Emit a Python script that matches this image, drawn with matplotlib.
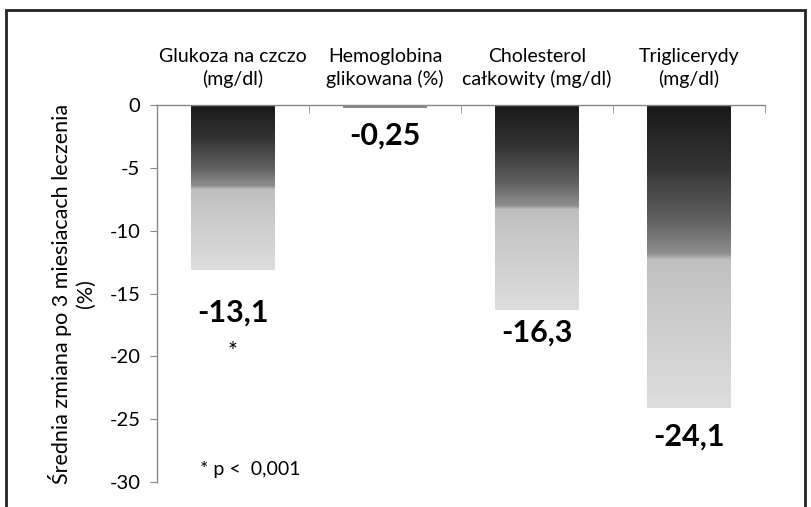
import matplotlib.pyplot as plt
import numpy as np
from matplotlib.colors import LinearSegmentedColormap
from matplotlib.patches import Rectangle

plt.rcParams['font.family'] = ['Lato', 'DejaVu Sans']

categories = ['Glukoza na czczo\n(mg/dl)', 'Hemoglobina\nglikowana (%)',
              'Cholesterol\ncałkowity (mg/dl)', 'Triglicerydy\n(mg/dl)']
values = [-13.1, -0.25, -16.3, -24.1]
value_labels = ['-13,1', '-0,25', '-16,3', '-24,1']
label_offset = [3.4, 2.15, 1.8, 2.3]
stars = ['*', '', '', '']
yticks = [0, -5, -10, -15, -20, -25, -30]

# grey gradient: dark on top, sharp step to light grey halfway down
grad = LinearSegmentedColormap.from_list('bar_grad', [
    (0.0, (0.10, 0.10, 0.10)),
    (0.2, (0.20, 0.20, 0.20)),
    (0.38, (0.38, 0.38, 0.38)),
    (0.49, (0.56, 0.56, 0.56)),
    (0.51, (0.75, 0.75, 0.75)),
    (1.0, (0.87, 0.87, 0.87)),
])

fig = plt.figure(figsize=(8.12, 5.07), dpi=100)
fig.patches.append(Rectangle((0.008, -0.05), 0.983, 1.03, transform=fig.transFigure,
                             fill=False, edgecolor='#222222', linewidth=2.0))
ax = fig.add_axes([0.1933, 0.0493, 0.7488, 0.7436])

x = np.arange(len(values))
width = 0.55
bars = ax.bar(x, values, width=width, color='none', edgecolor='none')
ramp = np.linspace(0, 1, 256).reshape(-1, 1)
for b, v in zip(bars, values):
    x0 = b.get_x()
    img = ax.imshow(ramp, cmap=grad, aspect='auto', vmin=0, vmax=1,
                    extent=[x0, x0 + width, v, 0], origin='upper', zorder=2)
    img.set_clip_path(b)
    if abs(v) < 1:
        ax.add_patch(Rectangle((x0, v), width, -v, facecolor='#8a8a8a', edgecolor='none', zorder=2))

for i, (v, lab, off, s) in enumerate(zip(values, value_labels, label_offset, stars)):
    ax.text(i, v - off, lab, ha='center', va='center', fontsize=22, fontweight='bold', color='black')
    if s:
        ax.text(i, v - 6.5, s, ha='center', va='center', fontsize=17, color='black')

ax.text(-0.22, -29.0, '* p <  0,001', ha='left', va='center', fontsize=14)

ax.set_xlim(-0.5, len(values) - 0.5)
ax.set_ylim(-30, 0)
ax.set_yticks(yticks)
ax.set_yticklabels([str(t) for t in yticks], fontsize=14.5)
ax.tick_params(axis='y', direction='out', length=5, color='#888888', pad=7)

ax.xaxis.set_ticks_position('top')
ax.set_xticks(x)
ax.set_xticklabels(categories, fontsize=14, linespacing=1.35)
ax.set_xticks(np.arange(-0.5, len(values)), minor=True)
ax.tick_params(axis='x', which='major', length=0, pad=12)
ax.tick_params(axis='x', which='minor', direction='in', length=6, color='#888888')

for side in ['right', 'bottom']:
    ax.spines[side].set_visible(False)
for side in ['left', 'top']:
    ax.spines[side].set_color('#888888')
    ax.spines[side].set_linewidth(1.0)
ax.spines['top'].set_zorder(3)

ax.set_ylabel('Średnia zmiana po 3 miesiacach leczenia\n(%)', fontsize=15.5,
              linespacing=1.2, labelpad=10)

fig.savefig('out.png', dpi=100)
